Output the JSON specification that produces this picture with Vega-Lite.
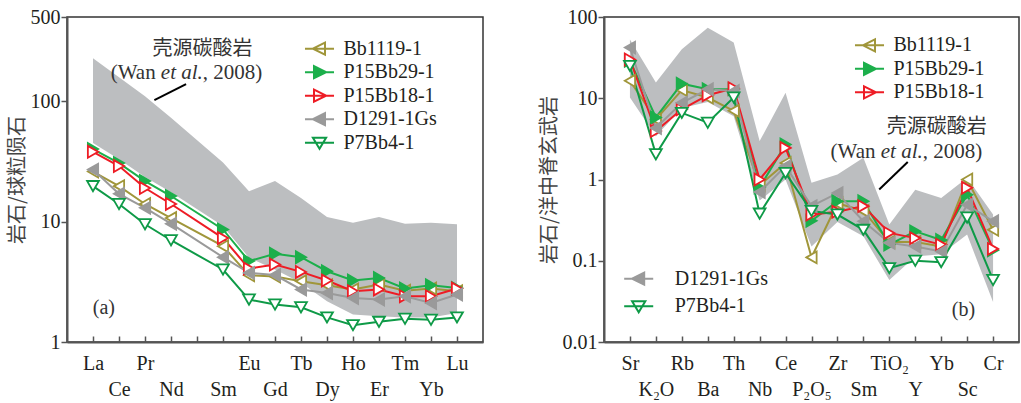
{
  "$schema": "https://vega.github.io/schema/vega-lite/v6.json",
  "background": "white",
  "padding": {"left": 6, "top": 6, "right": 2, "bottom": 2},
  "bounds": "flush",
  "spacing": 121,
  "config": {
    "view": {"stroke": "#333", "strokeWidth": 1.5},
    "font": "Liberation Serif",
    "axis": {"grid": false, "domainColor": "#555", "domainWidth": 2, "tickColor": "#555", "tickWidth": 1.5, "labelFont": "Liberation Serif", "labelFontSize": 20, "labelColor": "#231f20", "titleFont": "Noto Sans CJK SC", "titleFontSize": 20, "titleFontWeight": "normal", "titleColor": "#444"},
    "legend": {"labelFont": "Liberation Serif", "labelFontSize": 20, "labelColor": "#231f20", "padding": 0, "symbolSize": 484, "symbolStrokeWidth": 2, "labelOffset": 12, "rowPadding": 0.5}
  },
  "resolve": {"scale": {"stroke": "independent", "fill": "independent", "shape": "independent"}, "legend": {"stroke": "independent", "fill": "independent", "shape": "independent"}},
  "hconcat": [
    {
      "width": 416,
      "height": 325,
      "resolve": {"scale": {"stroke": "independent", "fill": "independent", "shape": "independent"}, "legend": {"stroke": "independent", "fill": "independent", "shape": "independent"}, "axis": {"x": "independent"}},
      "data": {"values": [
        {"x": 1, "el": "La", "lo": 45, "hi": 227, "Bb1119-1": 26, "P15Bb29-1": 40, "P15Bb18-1": 38, "D1291-1Gs": 27, "P7Bb4-1": 19.7},
        {"x": 2, "el": "Ce", "lo": 33, "hi": 158, "Bb1119-1": 19.7, "P15Bb29-1": 30.6, "P15Bb18-1": 28.9, "D1291-1Gs": 17, "P7Bb4-1": 14},
        {"x": 3, "el": "Pr", "lo": 23.5, "hi": 110, "Bb1119-1": 14, "P15Bb29-1": 21.7, "P15Bb18-1": 19, "D1291-1Gs": 13, "P7Bb4-1": 9.5},
        {"x": 4, "el": "Nd", "lo": 17.5, "hi": 73, "Bb1119-1": 10.7, "P15Bb29-1": 16.3, "P15Bb18-1": 14, "D1291-1Gs": 9.6, "P7Bb4-1": 7.0},
        {"x": 6, "el": "Sm", "lo": 9.2, "hi": 31, "Bb1119-1": 6.25, "P15Bb29-1": 8.6, "P15Bb18-1": 7.3, "D1291-1Gs": 5.06, "P7Bb4-1": 4.0},
        {"x": 7, "el": "Eu", "lo": 5.0, "hi": 17.9, "Bb1119-1": 3.58, "P15Bb29-1": 4.7, "P15Bb18-1": 4.07, "D1291-1Gs": 3.75, "P7Bb4-1": 2.25},
        {"x": 8, "el": "Gd", "lo": 4.0, "hi": 21.7, "Bb1119-1": 3.5, "P15Bb29-1": 5.4, "P15Bb18-1": 4.4, "D1291-1Gs": 3.6, "P7Bb4-1": 2.05},
        {"x": 9, "el": "Tb", "lo": 3.1, "hi": 15.7, "Bb1119-1": 3.2, "P15Bb29-1": 5.06, "P15Bb18-1": 3.82, "D1291-1Gs": 2.73, "P7Bb4-1": 1.94},
        {"x": 10, "el": "Dy", "lo": 2.18, "hi": 10.9, "Bb1119-1": 2.96, "P15Bb29-1": 3.87, "P15Bb18-1": 3.24, "D1291-1Gs": 2.55, "P7Bb4-1": 1.6},
        {"x": 11, "el": "Ho", "lo": 1.69, "hi": 9.8, "Bb1119-1": 2.73, "P15Bb29-1": 3.24, "P15Bb18-1": 2.64, "D1291-1Gs": 2.32, "P7Bb4-1": 1.38},
        {"x": 12, "el": "Er", "lo": 1.64, "hi": 10.9, "Bb1119-1": 3.0, "P15Bb29-1": 3.4, "P15Bb18-1": 2.73, "D1291-1Gs": 2.25, "P7Bb4-1": 1.47},
        {"x": 13, "el": "Tm", "lo": 1.6, "hi": 9.6, "Bb1119-1": 2.67, "P15Bb29-1": 2.78, "P15Bb18-1": 2.4, "D1291-1Gs": 2.4, "P7Bb4-1": 1.56},
        {"x": 14, "el": "Yb", "lo": 1.6, "hi": 9.8, "Bb1119-1": 2.78, "P15Bb29-1": 2.96, "P15Bb18-1": 2.4, "D1291-1Gs": 2.11, "P7Bb4-1": 1.53},
        {"x": 15, "el": "Lu", "lo": 1.74, "hi": 9.5, "Bb1119-1": 2.64, "P15Bb29-1": 2.81, "P15Bb18-1": 2.78, "D1291-1Gs": 2.48, "P7Bb4-1": 1.6}
      ]},
      "layer": [
        {
          "mark": {"type": "area", "color": "#BCBEC0", "opacity": 1},
          "encoding": {
            "x": {"field": "x", "type": "quantitative", "scale": {"domain": [0, 16], "nice": false},
              "axis": {"title": null, "orient": "bottom", "values": [1,3,5,7,9,11,13,15], "labelExpr": "['','La','Ce','Pr','Nd','','Sm','Eu','Gd','Tb','Dy','Ho','Er','Tm','Yb','Lu'][datum.value]", "tickSize": -6, "labelPadding": 17, "labelBaseline": "top", "labelAlign": "center", "labelFlush": false, "labelOverlap": false, "labelAngle": 0}},
            "y": {"field": "hi", "type": "quantitative", "scale": {"type": "log", "domain": [1, 500], "nice": false},
              "axis": {"title": "岩石/球粒陨石", "values": [1, 10, 100, 500], "labelExpr": "format(datum.value, '~g')", "tickSize": 6, "labelPadding": 1, "titlePadding": 3}},
            "y2": {"field": "lo"}
          }
        },
        {
          "transform": [{"fold": ["Bb1119-1", "P15Bb29-1", "P15Bb18-1", "D1291-1Gs", "P7Bb4-1"], "as": ["s", "v"]}],
          "mark": {"type": "line", "strokeWidth": 2},
          "encoding": {
            "x": {"field": "x", "type": "quantitative",
              "axis": {"title": null, "orient": "bottom", "domain": false, "values": [2,4,6,8,10,12,14], "labelExpr": "['','La','Ce','Pr','Nd','','Sm','Eu','Gd','Tb','Dy','Ho','Er','Tm','Yb','Lu'][datum.value]", "tickSize": -6, "labelPadding": 43, "labelBaseline": "top", "labelAlign": "center", "labelFlush": false, "labelOverlap": false, "labelAngle": 0}},
            "y": {"field": "v", "type": "quantitative"},
            "stroke": {"field": "s", "type": "nominal", "scale": {"domain": ["Bb1119-1", "P15Bb29-1", "P15Bb18-1", "D1291-1Gs", "P7Bb4-1"], "range": ["#A0963A", "#1CAF4B", "#EE1C25", "#9A9A9A", "#0E9A47"]}, "legend": null}
          }
        },
        {
          "transform": [{"fold": ["Bb1119-1", "P15Bb29-1", "P15Bb18-1", "D1291-1Gs", "P7Bb4-1"], "as": ["s", "v"]}],
          "mark": {"type": "point", "filled": true, "size": 140, "strokeWidth": 1.8, "opacity": 1},
          "encoding": {
            "x": {"field": "x", "type": "quantitative", "axis": null},
            "y": {"field": "v", "type": "quantitative"},
            "stroke": {"field": "s", "type": "nominal", "scale": {"domain": ["Bb1119-1", "P15Bb29-1", "P15Bb18-1", "D1291-1Gs", "P7Bb4-1"], "range": ["#A0963A", "#1CAF4B", "#EE1C25", "#9A9A9A", "#0E9A47"]}, "legend": null},
            "fill": {"field": "s", "type": "nominal", "scale": {"domain": ["Bb1119-1", "P15Bb29-1", "P15Bb18-1", "D1291-1Gs", "P7Bb4-1"], "range": ["#ffffff", "#1CAF4B", "#ffffff", "#9A9A9A", "#ffffff"]}, "legend": null},
            "shape": {"field": "s", "type": "nominal", "scale": {"domain": ["Bb1119-1", "P15Bb29-1", "P15Bb18-1", "D1291-1Gs", "P7Bb4-1"], "range": ["triangle-left", "triangle-right", "triangle-right", "triangle-left", "triangle-down"]}, "legend": null}
          }
        },
        {
          "data": {"values": [{"s": "Bb1119-1"}, {"s": "P15Bb29-1"}, {"s": "P15Bb18-1"}, {"s": "D1291-1Gs"}, {"s": "P7Bb4-1"}]},
          "transform": [{"filter": "false"}],
          "mark": {"type": "point", "filled": true, "strokeWidth": 2, "opacity": 1},
          "encoding": {
            "stroke": {"field": "s", "type": "nominal", "scale": {"domain": ["Bb1119-1", "P15Bb29-1", "P15Bb18-1", "D1291-1Gs", "P7Bb4-1"], "range": ["#A0963A", "#1CAF4B", "#EE1C25", "#9A9A9A", "#0E9A47"]},
              "legend": {"title": null, "orient": "none", "legendX": 240.5, "legendY": 19.7, "symbolSize": 484, "symbolStrokeWidth": 2, "labelOffset": 12, "rowPadding": 0.5, "padding": 0}},
            "fill": {"field": "s", "type": "nominal", "scale": {"domain": ["Bb1119-1", "P15Bb29-1", "P15Bb18-1", "D1291-1Gs", "P7Bb4-1"], "range": ["#ffffff", "#1CAF4B", "#ffffff", "#9A9A9A", "#ffffff"]},
              "legend": {"title": null, "orient": "none", "legendX": 240.5, "legendY": 19.7, "symbolSize": 484, "symbolStrokeWidth": 2, "labelOffset": 12, "rowPadding": 0.5, "padding": 0}},
            "shape": {"field": "s", "type": "nominal", "scale": {"domain": ["Bb1119-1", "P15Bb29-1", "P15Bb18-1", "D1291-1Gs", "P7Bb4-1"], "range": ["M-1.32,0L1.32,0M-0.6,0L0.5,-0.55L0.5,0.55Z", "M-1.32,0L1.32,0M0.6,0L-0.5,-0.55L-0.5,0.55Z", "M-1.32,0L1.32,0M0.6,0L-0.5,-0.55L-0.5,0.55Z", "M-1.32,0L1.32,0M-0.6,0L0.5,-0.55L0.5,0.55Z", "M-1.32,0L1.32,0M0,0.55L-0.6,-0.45L0.6,-0.45Z"]},
              "legend": {"title": null, "orient": "none", "legendX": 240.5, "legendY": 19.7, "symbolSize": 484, "symbolStrokeWidth": 2, "labelOffset": 12, "rowPadding": 0.5, "padding": 0}}
          }
        },
        {
          "data": {"values": [{"t": "壳源碳酸岩", "x": 5.21, "y": 272}]},
          "mark": {"type": "text", "font": "Noto Sans CJK SC", "fontSize": 20, "color": "#333", "align": "center", "baseline": "middle"},
          "encoding": {"x": {"field": "x", "type": "quantitative", "axis": null}, "y": {"field": "y", "type": "quantitative"}, "text": {"field": "t"}}
        },
        {
          "data": {"values": [{"t": "(Wan", "x": 3.41, "y": 172.6}]},
          "mark": {"type": "text", "font": "Liberation Serif", "fontSize": 21, "color": "#333", "align": "right", "baseline": "middle"},
          "encoding": {"x": {"field": "x", "type": "quantitative", "axis": null}, "y": {"field": "y", "type": "quantitative"}, "text": {"field": "t"}}
        },
        {
          "data": {"values": [{"t": "et al.", "x": 3.61, "y": 172.6}]},
          "mark": {"type": "text", "font": "Liberation Serif", "fontStyle": "italic", "fontSize": 21, "color": "#333", "align": "left", "baseline": "middle"},
          "encoding": {"x": {"field": "x", "type": "quantitative", "axis": null}, "y": {"field": "y", "type": "quantitative"}, "text": {"field": "t"}}
        },
        {
          "data": {"values": [{"t": ", 2008)", "x": 5.22, "y": 172.6}]},
          "mark": {"type": "text", "font": "Liberation Serif", "fontSize": 21, "color": "#333", "align": "left", "baseline": "middle"},
          "encoding": {"x": {"field": "x", "type": "quantitative", "axis": null}, "y": {"field": "y", "type": "quantitative"}, "text": {"field": "t"}}
        },
        {
          "data": {"values": [{"x": 3.36, "y": 102, "x2": 4.58, "y2": 138.7}]},
          "mark": {"type": "rule", "color": "#000", "strokeWidth": 2},
          "encoding": {"x": {"field": "x", "type": "quantitative", "axis": null}, "y": {"field": "y", "type": "quantitative"}, "x2": {"field": "x2"}, "y2": {"field": "y2"}}
        },
        {
          "data": {"values": [{"t": "(a)", "x": 1.42, "y": 1.905}]},
          "mark": {"type": "text", "font": "Liberation Serif", "fontSize": 20, "color": "#333", "align": "center", "baseline": "middle"},
          "encoding": {"x": {"field": "x", "type": "quantitative", "axis": null}, "y": {"field": "y", "type": "quantitative"}, "text": {"field": "t"}}
        }
      ]
    },
    {
      "width": 415,
      "height": 325,
      "resolve": {"scale": {"stroke": "independent", "fill": "independent", "shape": "independent"}, "legend": {"stroke": "independent", "fill": "independent", "shape": "independent"}, "axis": {"x": "independent"}},
      "data": {"values": [
        {"x": 1, "el": "Sr", "lo": 10.2, "hi": 53, "Bb1119-1": 16.4, "P15Bb29-1": 29, "P15Bb18-1": 30, "D1291-1Gs": 42, "P7Bb4-1": 25},
        {"x": 2, "el": "K₂O", "lo": 3.4, "hi": 15.6, "Bb1119-1": 5.5, "P15Bb29-1": 5.8, "P15Bb18-1": 3.95, "D1291-1Gs": 4.3, "P7Bb4-1": 2.04},
        {"x": 3, "el": "Rb", "lo": 7.6, "hi": 40, "Bb1119-1": 12.6, "P15Bb29-1": 15.1, "P15Bb18-1": 7.3, "D1291-1Gs": 8.8, "P7Bb4-1": 6.6},
        {"x": 4, "el": "Ba", "lo": 9.0, "hi": 74, "Bb1119-1": 10.2, "P15Bb29-1": 12.9, "P15Bb18-1": 10.9, "D1291-1Gs": 12.9, "P7Bb4-1": 5.0},
        {"x": 5, "el": "Th", "lo": 6.0, "hi": 48.6, "Bb1119-1": 7.0, "P15Bb29-1": 12.9, "P15Bb18-1": 13.3, "D1291-1Gs": 12.3, "P7Bb4-1": 10.2},
        {"x": 6, "el": "Nb", "lo": 0.55, "hi": 2.97, "Bb1119-1": 0.85, "P15Bb29-1": 0.8, "P15Bb18-1": 1.0, "D1291-1Gs": 0.7, "P7Bb4-1": 0.38},
        {"x": 7, "el": "Ce", "lo": 1.0, "hi": 11.7, "Bb1119-1": 1.6, "P15Bb29-1": 2.7, "P15Bb18-1": 2.45, "D1291-1Gs": 1.46, "P7Bb4-1": 1.2},
        {"x": 8, "el": "P₂O₅", "lo": 0.15, "hi": 0.91, "Bb1119-1": 0.11, "P15Bb29-1": 0.31, "P15Bb18-1": 0.37, "D1291-1Gs": 0.47, "P7Bb4-1": 0.41},
        {"x": 9, "el": "Zr", "lo": 0.3, "hi": 1.15, "Bb1119-1": 0.51, "P15Bb29-1": 0.54, "P15Bb18-1": 0.4, "D1291-1Gs": 0.68, "P7Bb4-1": 0.37},
        {"x": 10, "el": "Sm", "lo": 0.2, "hi": 1.85, "Bb1119-1": 0.41, "P15Bb29-1": 0.54, "P15Bb18-1": 0.47, "D1291-1Gs": 0.306, "P7Bb4-1": 0.24},
        {"x": 11, "el": "TiO₂", "lo": 0.058, "hi": 0.28, "Bb1119-1": 0.17, "P15Bb29-1": 0.158, "P15Bb18-1": 0.22, "D1291-1Gs": 0.166, "P7Bb4-1": 0.081},
        {"x": 12, "el": "Y", "lo": 0.113, "hi": 0.75, "Bb1119-1": 0.17, "P15Bb29-1": 0.23, "P15Bb18-1": 0.19, "D1291-1Gs": 0.15, "P7Bb4-1": 0.1},
        {"x": 13, "el": "Yb", "lo": 0.12, "hi": 0.59, "Bb1119-1": 0.15, "P15Bb29-1": 0.18, "P15Bb18-1": 0.158, "D1291-1Gs": 0.13, "P7Bb4-1": 0.096},
        {"x": 14, "el": "Sc", "lo": 0.21, "hi": 1.05, "Bb1119-1": 1.0, "P15Bb29-1": 0.65, "P15Bb18-1": 0.79, "D1291-1Gs": 0.49, "P7Bb4-1": 0.34},
        {"x": 15, "el": "Cr", "lo": 0.031, "hi": 0.37, "Bb1119-1": 0.24, "P15Bb29-1": 0.135, "P15Bb18-1": 0.14, "D1291-1Gs": 0.306, "P7Bb4-1": 0.058}
      ]},
      "layer": [
        {
          "mark": {"type": "area", "color": "#BCBEC0", "opacity": 1},
          "encoding": {
            "x": {"field": "x", "type": "quantitative", "scale": {"domain": [0, 16], "nice": false},
              "axis": {"title": null, "orient": "bottom", "values": [1,3,5,7,9,11,13,15], "labelExpr": "['','Sr','K₂O','Rb','Ba','Th','Nb','Ce','P₂O₅','Zr','Sm','TiO₂','Y','Yb','Sc','Cr'][datum.value]", "tickSize": -6, "labelPadding": 17, "labelBaseline": "top", "labelAlign": "center", "labelFlush": false, "labelOverlap": false, "labelAngle": 0}},
            "y": {"field": "hi", "type": "quantitative", "scale": {"type": "log", "domain": [0.01, 100], "nice": false},
              "axis": {"title": "岩石/洋中脊玄武岩", "values": [0.01, 0.1, 1, 10, 100], "labelExpr": "format(datum.value, '~g')", "tickSize": 6, "labelPadding": 1, "titlePadding": 3}},
            "y2": {"field": "lo"}
          }
        },
        {
          "transform": [{"fold": ["Bb1119-1", "P15Bb29-1", "P15Bb18-1", "D1291-1Gs", "P7Bb4-1"], "as": ["s", "v"]}],
          "mark": {"type": "line", "strokeWidth": 2},
          "encoding": {
            "x": {"field": "x", "type": "quantitative",
              "axis": {"title": null, "orient": "bottom", "domain": false, "values": [2,4,6,8,10,12,14], "labelExpr": "['','Sr','K₂O','Rb','Ba','Th','Nb','Ce','P₂O₅','Zr','Sm','TiO₂','Y','Yb','Sc','Cr'][datum.value]", "tickSize": -6, "labelPadding": 43, "labelBaseline": "top", "labelAlign": "center", "labelFlush": false, "labelOverlap": false, "labelAngle": 0}},
            "y": {"field": "v", "type": "quantitative"},
            "stroke": {"field": "s", "type": "nominal", "scale": {"domain": ["Bb1119-1", "P15Bb29-1", "P15Bb18-1", "D1291-1Gs", "P7Bb4-1"], "range": ["#A0963A", "#1CAF4B", "#EE1C25", "#9A9A9A", "#0E9A47"]}, "legend": null}
          }
        },
        {
          "transform": [{"fold": ["Bb1119-1", "P15Bb29-1", "P15Bb18-1", "D1291-1Gs", "P7Bb4-1"], "as": ["s", "v"]}],
          "mark": {"type": "point", "filled": true, "size": 140, "strokeWidth": 1.8, "opacity": 1},
          "encoding": {
            "x": {"field": "x", "type": "quantitative", "axis": null},
            "y": {"field": "v", "type": "quantitative"},
            "stroke": {"field": "s", "type": "nominal", "scale": {"domain": ["Bb1119-1", "P15Bb29-1", "P15Bb18-1", "D1291-1Gs", "P7Bb4-1"], "range": ["#A0963A", "#1CAF4B", "#EE1C25", "#9A9A9A", "#0E9A47"]}, "legend": null},
            "fill": {"field": "s", "type": "nominal", "scale": {"domain": ["Bb1119-1", "P15Bb29-1", "P15Bb18-1", "D1291-1Gs", "P7Bb4-1"], "range": ["#ffffff", "#1CAF4B", "#ffffff", "#9A9A9A", "#ffffff"]}, "legend": null},
            "shape": {"field": "s", "type": "nominal", "scale": {"domain": ["Bb1119-1", "P15Bb29-1", "P15Bb18-1", "D1291-1Gs", "P7Bb4-1"], "range": ["triangle-left", "triangle-right", "triangle-right", "triangle-left", "triangle-down"]}, "legend": null}
          }
        },
        {
          "data": {"values": [{"s": "Bb1119-1"}, {"s": "P15Bb29-1"}, {"s": "P15Bb18-1"}]},
          "transform": [{"filter": "false"}],
          "mark": {"type": "point", "filled": true, "strokeWidth": 2, "opacity": 1},
          "encoding": {
            "stroke": {"field": "s", "type": "nominal", "scale": {"domain": ["Bb1119-1", "P15Bb29-1", "P15Bb18-1"], "range": ["#A0963A", "#1CAF4B", "#EE1C25"]},
              "legend": {"title": null, "orient": "none", "legendX": 253.5, "legendY": 16.3, "symbolSize": 484, "symbolStrokeWidth": 2, "labelOffset": 12, "rowPadding": 0.5, "padding": 0}},
            "fill": {"field": "s", "type": "nominal", "scale": {"domain": ["Bb1119-1", "P15Bb29-1", "P15Bb18-1"], "range": ["#ffffff", "#1CAF4B", "#ffffff"]},
              "legend": {"title": null, "orient": "none", "legendX": 253.5, "legendY": 16.3, "symbolSize": 484, "symbolStrokeWidth": 2, "labelOffset": 12, "rowPadding": 0.5, "padding": 0}},
            "shape": {"field": "s", "type": "nominal", "scale": {"domain": ["Bb1119-1", "P15Bb29-1", "P15Bb18-1"], "range": ["M-1.32,0L1.32,0M-0.6,0L0.5,-0.55L0.5,0.55Z", "M-1.32,0L1.32,0M0.6,0L-0.5,-0.55L-0.5,0.55Z", "M-1.32,0L1.32,0M0.6,0L-0.5,-0.55L-0.5,0.55Z"]},
              "legend": {"title": null, "orient": "none", "legendX": 253.5, "legendY": 16.3, "symbolSize": 484, "symbolStrokeWidth": 2, "labelOffset": 12, "rowPadding": 0.5, "padding": 0}}
          }
        },
        {
          "data": {"values": [{"s": "D1291-1Gs"}, {"s": "P7Bb4-1"}]},
          "transform": [{"filter": "false"}],
          "mark": {"type": "point", "filled": true, "strokeWidth": 2, "opacity": 1},
          "encoding": {
            "stroke": {"field": "s", "type": "nominal", "scale": {"domain": ["D1291-1Gs", "P7Bb4-1"], "range": ["#9A9A9A", "#0E9A47"]},
              "legend": {"title": null, "orient": "none", "legendX": 22.7, "legendY": 249.7, "symbolSize": 484, "symbolStrokeWidth": 2, "labelOffset": 24, "rowPadding": 4.6, "padding": 0}},
            "fill": {"field": "s", "type": "nominal", "scale": {"domain": ["D1291-1Gs", "P7Bb4-1"], "range": ["#9A9A9A", "#ffffff"]},
              "legend": {"title": null, "orient": "none", "legendX": 22.7, "legendY": 249.7, "symbolSize": 484, "symbolStrokeWidth": 2, "labelOffset": 24, "rowPadding": 4.6, "padding": 0}},
            "shape": {"field": "s", "type": "nominal", "scale": {"domain": ["D1291-1Gs", "P7Bb4-1"], "range": ["M-1.32,0L1.32,0M-0.6,0L0.5,-0.55L0.5,0.55Z", "M-1.32,0L1.32,0M0,0.55L-0.6,-0.45L0.6,-0.45Z"]},
              "legend": {"title": null, "orient": "none", "legendX": 22.7, "legendY": 249.7, "symbolSize": 484, "symbolStrokeWidth": 2, "labelOffset": 24, "rowPadding": 4.6, "padding": 0}}
          }
        },
        {
          "data": {"values": [{"t": "壳源碳酸岩", "x": 12.83, "y": 4.4}]},
          "mark": {"type": "text", "font": "Noto Sans CJK SC", "fontSize": 20, "color": "#333", "align": "center", "baseline": "middle"},
          "encoding": {"x": {"field": "x", "type": "quantitative", "axis": null}, "y": {"field": "y", "type": "quantitative"}, "text": {"field": "t"}}
        },
        {
          "data": {"values": [{"t": "(Wan", "x": 10.47, "y": 2.205}]},
          "mark": {"type": "text", "font": "Liberation Serif", "fontSize": 21, "color": "#333", "align": "right", "baseline": "middle"},
          "encoding": {"x": {"field": "x", "type": "quantitative", "axis": null}, "y": {"field": "y", "type": "quantitative"}, "text": {"field": "t"}}
        },
        {
          "data": {"values": [{"t": "et al.", "x": 10.67, "y": 2.205}]},
          "mark": {"type": "text", "font": "Liberation Serif", "fontStyle": "italic", "fontSize": 21, "color": "#333", "align": "left", "baseline": "middle"},
          "encoding": {"x": {"field": "x", "type": "quantitative", "axis": null}, "y": {"field": "y", "type": "quantitative"}, "text": {"field": "t"}}
        },
        {
          "data": {"values": [{"t": ", 2008)", "x": 12.29, "y": 2.205}]},
          "mark": {"type": "text", "font": "Liberation Serif", "fontSize": 21, "color": "#333", "align": "left", "baseline": "middle"},
          "encoding": {"x": {"field": "x", "type": "quantitative", "axis": null}, "y": {"field": "y", "type": "quantitative"}, "text": {"field": "t"}}
        },
        {
          "data": {"values": [{"x": 11.71, "y": 1.646, "x2": 10.61, "y2": 0.753}]},
          "mark": {"type": "rule", "color": "#000", "strokeWidth": 2},
          "encoding": {"x": {"field": "x", "type": "quantitative", "axis": null}, "y": {"field": "y", "type": "quantitative"}, "x2": {"field": "x2"}, "y2": {"field": "y2"}}
        },
        {
          "data": {"values": [{"t": "(b)", "x": 13.86, "y": 0.0246}]},
          "mark": {"type": "text", "font": "Liberation Serif", "fontSize": 20, "color": "#333", "align": "center", "baseline": "middle"},
          "encoding": {"x": {"field": "x", "type": "quantitative", "axis": null}, "y": {"field": "y", "type": "quantitative"}, "text": {"field": "t"}}
        }
      ]
    }
  ]
}
